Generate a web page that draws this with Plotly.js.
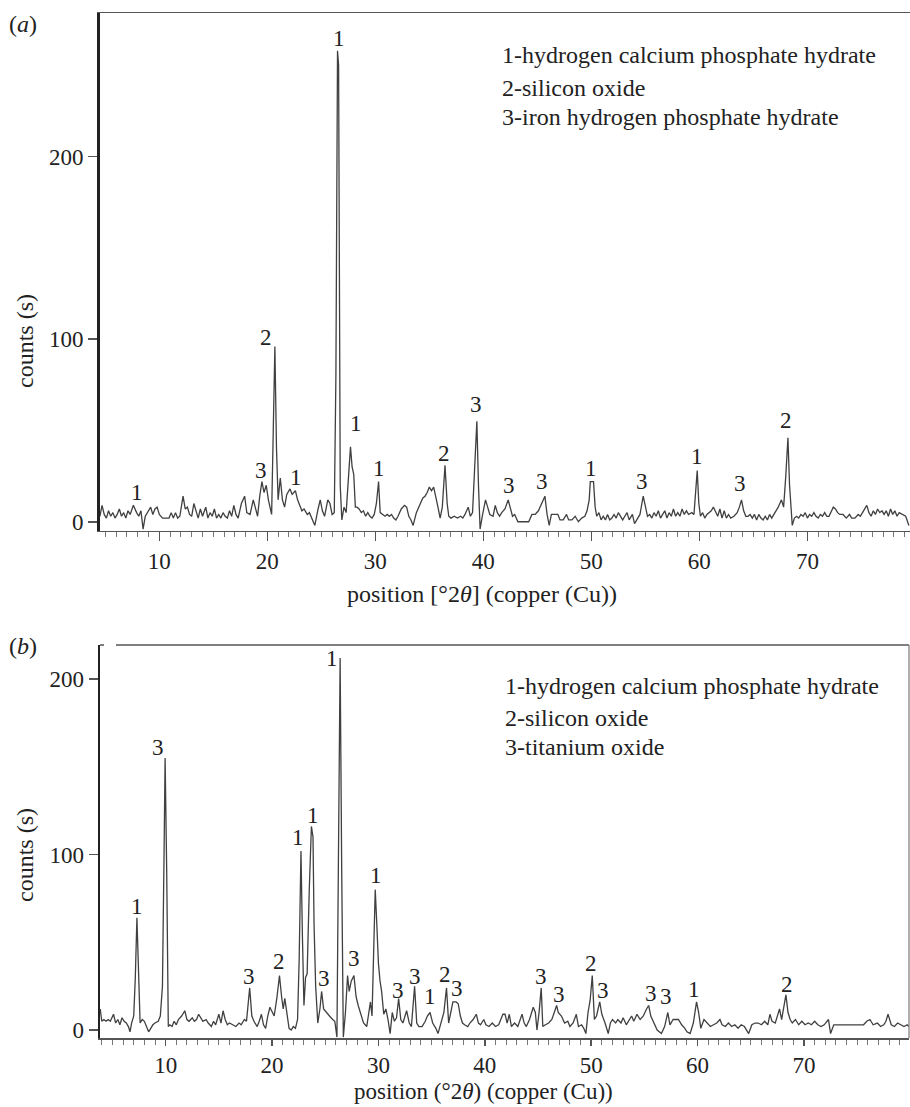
<!DOCTYPE html>
<html>
<head>
<meta charset="utf-8">
<script src="https://cdn.plot.ly/plotly-3.0.1.min.js"></script>
<style>
html,body{margin:0;padding:0;background:#fff;}
#chart{width:910px;height:1107px;}
</style>
</head>
<body>
<div id="chart"></div>
<script>
// ---------- Panel (a) data ----------
const xA = [4.5,4.7,4.9,5.1,5.3,5.5,5.7,5.9,6.1,6.3,6.5,6.7,6.9,7.1,7.3,7.6,7.9,8.1,8.3,8.5,8.7,8.9,9.2,9.4,9.6,9.8,10.0,10.3,10.6,10.9,11.1,11.3,11.5,11.7,11.9,12.2,12.4,12.6,12.8,13.0,13.2,13.4,13.6,13.8,14.0,14.3,14.5,14.7,14.9,15.1,15.3,15.5,15.7,15.9,16.1,16.3,16.5,16.7,16.9,17.1,17.3,17.6,17.9,18.1,18.4,18.7,18.9,19.1,19.3,19.5,19.7,19.9,20.1,20.4,20.55,20.7,20.85,21.0,21.2,21.4,21.6,21.8,22.1,22.3,22.6,22.8,23.0,23.2,23.4,23.7,23.9,24.1,24.4,24.7,24.9,25.1,25.3,25.6,25.8,26.0,26.2,26.35,26.5,26.6,26.75,26.9,27.1,27.3,27.5,27.7,27.85,28.0,28.15,28.3,28.5,28.7,28.9,29.1,29.3,29.5,29.7,29.9,30.1,30.3,30.45,30.7,30.9,31.1,31.3,31.5,31.7,31.9,32.1,32.4,32.7,32.9,33.1,33.3,33.5,33.8,34.1,34.4,34.6,34.8,35.0,35.2,35.4,35.6,35.8,36.0,36.2,36.45,36.65,36.8,37.0,37.3,37.6,37.9,38.1,38.3,38.6,38.8,39.0,39.2,39.4,39.55,39.7,39.9,40.2,40.4,40.6,40.9,41.1,41.3,41.5,41.7,42.0,42.3,42.5,42.7,42.9,43.2,43.5,43.9,44.2,44.5,44.8,45.1,45.4,45.7,45.9,46.1,46.3,46.6,46.9,47.1,47.4,47.7,47.9,48.2,48.5,48.8,49.1,49.4,49.6,49.8,49.9,50.2,50.35,50.5,50.7,50.9,51.1,51.3,51.5,51.7,51.9,52.1,52.3,52.5,52.7,52.9,53.1,53.3,53.5,53.8,54.0,54.3,54.5,54.8,55.0,55.2,55.4,55.6,55.8,56.0,56.2,56.4,56.6,56.8,57.0,57.2,57.4,57.6,57.8,58.0,58.2,58.4,58.6,58.8,59.0,59.3,59.5,59.65,59.8,59.95,60.1,60.3,60.5,60.7,60.9,61.1,61.3,61.5,61.7,61.9,62.1,62.3,62.5,62.7,62.9,63.2,63.5,63.7,63.9,64.1,64.3,64.5,64.7,64.9,65.1,65.3,65.5,65.7,65.9,66.1,66.3,66.5,66.7,66.9,67.1,67.3,67.6,67.8,68.0,68.2,68.35,68.6,68.8,69.0,69.2,69.4,69.6,69.8,70.0,70.2,70.4,70.6,70.8,71.0,71.2,71.4,71.6,71.8,72.0,72.2,72.4,72.6,72.8,73.0,73.3,73.6,73.9,74.1,74.4,74.7,74.9,75.2,75.5,75.7,75.9,76.1,76.3,76.5,76.7,76.9,77.1,77.3,77.5,77.7,77.9,78.1,78.3,78.5,78.8,79.1,79.4];
const yA = [3,9,4,2,6,3,5,2,4,7,3,5,2,6,4,9,5,3,6,-4,3,5,8,4,7,8,4,2,2,2,5,2,5,2,3,14,7,8,4,3,10,6,2,7,3,8,2,5,3,7,2,4,2,5,3,2,6,3,9,4,2,10,14,5,4,12,8,3,14,22,16,20,12,4,50,96,40,12,24,12,8,15,18,15,17,12,9,6,7,4,5,2,-2,7,12,6,3,12,10,4,5,80,258,250,20,1,8,5,25,41,30,26,8,8,7,5,6,3,5,3,2,4,10,22,5,4,3,4,3,4,2,1,3,7,9,8,3,1,-2,5,9,13,14,16,19,17,19,14,8,2,8,31,10,3,2,3,2,3,2,4,8,3,5,30,55,20,-4,3,12,8,4,3,9,5,3,5,7,12,7,3,4,0,0,0,0,4,4,6,10,14,4,-2,4,4,4,1,1,4,1,1,3,0,2,3,6,12,22,22,8,3,5,1,3,1,4,1,2,4,2,5,3,1,3,5,1,4,-1,2,4,14,8,3,4,2,5,3,6,2,4,6,2,5,3,7,3,5,3,7,4,6,4,5,4,14,28,10,3,5,2,4,5,6,8,5,3,7,2,6,2,4,2,3,5,8,12,6,3,3,4,2,4,1,4,2,1,3,1,4,2,4,6,8,12,8,25,46,20,-2,2,3,2,4,3,5,2,4,3,5,3,2,4,3,5,3,3,6,8,7,5,4,4,2,4,2,2,4,3,6,9,5,3,6,4,7,5,6,4,6,3,7,4,6,3,5,4,3,-2];
const peakTextA = ["1","3","2","1","1","1","1","2","3","3","3","1","3","1","3","2"];
const peakXA = [7.9,19.4,19.9,22.65,26.65,28.2,30.3,36.4,39.3,42.4,45.4,50.0,54.7,59.8,63.8,68.0];
const peakYA = [16,28,101,24,265,54,29,37.5,64.5,20,22,29,22,35.6,21,55.7];
const legendA = ["1-hydrogen calcium phosphate hydrate","2-silicon oxide","3-iron hydrogen phosphate hydrate"];

// ---------- Panel (b) data ----------
const xB = [3.85,4.0,4.2,4.4,4.6,4.8,5.1,5.3,5.5,5.7,5.9,6.1,6.3,6.5,6.65,6.8,7.0,7.15,7.3,7.45,7.6,7.8,8.0,8.2,8.4,8.6,8.8,9.0,9.3,9.5,9.7,9.85,9.95,10.1,10.25,10.4,10.6,10.8,11.0,11.2,11.5,11.8,12.0,12.2,12.5,12.7,12.9,13.1,13.3,13.5,13.8,14.0,14.3,14.5,14.7,15.0,15.2,15.4,15.6,15.8,16.0,16.3,16.6,16.9,17.1,17.4,17.6,17.9,18.1,18.3,18.6,18.8,19.0,19.2,19.4,19.6,19.8,19.96,20.2,20.45,20.7,20.9,21.05,21.2,21.4,21.6,21.8,22.0,22.2,22.4,22.55,22.72,22.85,23.0,23.15,23.3,23.5,23.7,23.85,23.95,24.1,24.3,24.5,24.66,24.85,25.1,25.4,25.7,25.9,26.1,26.25,26.4,26.55,26.7,26.9,27.1,27.25,27.45,27.7,27.9,28.1,28.4,28.6,28.9,29.1,29.25,29.4,29.55,29.7,29.85,30.0,30.15,30.3,30.5,30.7,30.9,31.1,31.3,31.5,31.7,31.9,32.1,32.3,32.65,32.9,33.1,33.4,33.6,33.8,34.1,34.4,34.6,34.85,35.1,35.4,35.6,35.9,36.15,36.4,36.6,36.8,37.0,37.3,37.5,37.7,37.9,38.1,38.4,38.6,38.9,39.2,39.4,39.6,39.9,40.1,40.4,40.7,41.0,41.3,41.7,41.9,42.1,42.3,42.5,42.8,43.1,43.5,43.7,43.9,44.2,44.55,44.75,44.9,45.1,45.3,45.45,45.7,46.0,46.3,46.75,46.9,47.2,47.5,47.8,48.0,48.3,48.6,48.8,49.1,49.3,49.5,49.7,49.9,50.1,50.3,50.5,50.8,51.0,51.3,51.6,51.8,52.0,52.3,52.5,52.8,53.0,53.3,53.6,53.8,54.0,54.3,54.6,54.9,55.2,55.4,55.6,55.9,56.2,56.6,56.9,57.2,57.4,57.7,57.9,58.2,58.5,58.8,59.0,59.3,59.6,59.9,60.1,60.3,60.6,60.9,61.2,61.5,61.8,62.1,62.3,62.6,62.9,63.2,63.5,63.8,64.1,64.4,64.8,65.1,65.4,65.7,66.0,66.3,66.6,66.8,67.0,67.3,67.5,67.7,67.9,68.1,68.3,68.5,68.7,68.9,69.2,69.5,69.8,70.1,70.4,70.7,71.0,71.3,71.6,71.9,72.3,72.5,72.8,73.2,73.6,74.0,74.4,74.8,75.2,75.6,75.9,76.2,76.5,76.9,77.2,77.5,77.7,77.9,78.2,78.5,78.8,79.1,79.4,79.7,79.8,79.85];
const yB = [12,5,6,5,6,5,9,4,6,3,7,5,4,2,-1,4,8,30,64,25,4,6,5,2,-1,1,3,4,5,8,25,100,155,90,2,3,2,5,3,6,8,11,6,5,7,5,6,9,7,5,6,4,2,5,3,9,4,11,6,3,4,3,2,4,3,6,5,24,8,5,2,5,9,3,1,8,13,11,8,18,31,19,12,18,8,1,0,2,1,6,40,102,55,14,30,32,80,116,110,60,25,4,12,22,12,10,8,6,5,-4,100,212,90,-4,10,31,22,28,31,19,14,8,4,2,10,16,8,50,80,60,38,28,22,9,12,6,-2,10,5,7,18,6,4,11,4,2,25,4,2,2,5,8,10,4,1,-2,4,10,24,4,10,16,16,15,8,4,3,2,4,6,9,4,3,6,3,2,4,2,3,9,9,4,9,2,4,2,9,4,2,6,13,10,0,10,24,2,3,4,6,14,10,8,4,5,2,4,9,2,3,1,-2,10,17,31,6,8,16,9,4,-2,4,6,4,6,4,7,3,6,8,5,9,6,8,12,14,8,4,0,-2,2,10,3,6,6,6,3,1,-1,-2,4,16,10,1,6,4,2,3,4,6,3,2,4,2,3,1,3,2,-2,3,4,4,3,5,3,9,5,4,8,12,6,12,20,10,6,4,6,3,5,3,4,3,5,3,2,3,6,-2,3,3,3,3,3,3,3,3,5,6,3,4,2,3,5,9,3,2,4,3,2,3,2,2,26];
const peakTextB = ["1","3","3","2","1","1","3","1","3","1","3","3","1","2","3","3","3","2","3","3","3","1","2"];
const peakXB = [7.34,9.31,17.83,20.68,22.4,23.82,24.88,25.6,27.7,29.74,31.87,33.44,34.85,36.25,37.41,45.25,47.0,49.98,51.07,55.6,57.0,59.66,68.4];
const peakYB = [70.3,161,30.4,38.9,109.8,122,29.4,211.8,40.8,88.3,22.8,30.8,19,31.9,23.7,30.4,20.5,38,22.4,20.9,19,23.2,26.2];
const legendB = ["1-hydrogen calcium phosphate hydrate","2-silicon oxide","3-titanium oxide"];

const xTickVals = [10,20,30,40,50,60,70];
const yTickVals = [0,100,200];

// ---------- styling ----------
const FONT = "Liberation Serif, Times New Roman, serif";
const TXT = "#222";
const lineStyle = {color:"#404040", width:1.3};

const traces = [
  {x:xA, y:yA, type:"scatter", mode:"lines", line:lineStyle, xaxis:"x", yaxis:"y", hoverinfo:"skip"},
  {x:xB, y:yB, type:"scatter", mode:"lines", line:lineStyle, xaxis:"x2", yaxis:"y2", hoverinfo:"skip"}
];

function xAxis(range, domain, anchor, mirror, tlen){
  return {
    domain: domain, range: range, anchor: anchor,
    showgrid:false, zeroline:false,
    showline:true, linecolor:"#555", linewidth:1.5, mirror: mirror,
    ticks:"outside", ticklen:tlen, tickwidth:1.5, tickcolor:"#555",
    tickvals: xTickVals, ticktext: xTickVals.map(String),
    minor:{dtick:1, tick0:0, ticks:"outside", ticklen:5, tickwidth:1, tickcolor:"#777", showgrid:false},
    tickfont:{family:FONT, size:23, color:TXT},
    fixedrange:true
  };
}
function yAxis(range, domain, anchor, lw){
  return {
    domain: domain, range: range, anchor: anchor,
    showgrid:false, zeroline:false,
    showline:true, linecolor:"#222", linewidth:lw,
    ticks:"outside", ticklen:9, tickwidth:1.5, tickcolor:"#555",
    tickvals: yTickVals, ticktext: yTickVals.map(String),
    tickfont:{family:FONT, size:23, color:TXT},
    fixedrange:true
  };
}

const W = 910, H = 1107;
const px = v => v / W;
const py = v => 1 - v / H;

const annotations = [];
function addText(text, x, y, xref, yref, opts){
  annotations.push(Object.assign({
    text:text, x:x, y:y, xref:xref, yref:yref, showarrow:false,
    xanchor:"center", yanchor:"middle",
    font:{family:FONT, size:23, color:TXT}
  }, opts||{}));
}

peakTextA.forEach((t,i)=>addText(t, peakXA[i], peakYA[i], "x", "y"));
peakTextB.forEach((t,i)=>addText(t, peakXB[i], peakYB[i], "x2", "y2"));

// legends (text lists)
const legAy = [55, 88, 117];
legendA.forEach((t,i)=>addText(t, px(500), py(legAy[i]), "paper", "paper", {xanchor:"left", font:{family:FONT, size:24, color:TXT}}));
const legBy = [686, 718, 747];
legendB.forEach((t,i)=>addText(t, px(503), py(legBy[i]), "paper", "paper", {xanchor:"left", font:{family:FONT, size:24, color:TXT}}));

// axis titles
addText("position [°2<i>θ</i>] (copper (Cu))", px(482), py(594), "paper", "paper", {font:{family:FONT, size:24, color:TXT}});
addText("position (°2<i>θ</i>) (copper (Cu))", px(483), py(1091.5), "paper", "paper", {borderpad:0, font:{family:FONT, size:23, color:TXT}});
addText("counts (s)", px(25), py(341), "paper", "paper", {textangle:-90, font:{family:FONT, size:24, color:TXT}});
addText("counts (s)", px(25), py(855), "paper", "paper", {textangle:-90, font:{family:FONT, size:24, color:TXT}});
// panel labels
addText("(<i>a</i>)", px(23), py(24), "paper", "paper", {font:{family:FONT, size:24, color:TXT}});
addText("(<i>b</i>)", px(23), py(646), "paper", "paper", {font:{family:FONT, size:24, color:TXT}});

const shapes = [
  // panel (b) frame: top and right lines
  {type:"line", xref:"paper", yref:"paper", x0:px(116), x1:px(909), y0:py(645), y1:py(645), line:{color:"#555", width:1.5}},
  {type:"line", xref:"paper", yref:"paper", x0:px(909), x1:px(909), y0:py(645), y1:py(1038.3), line:{color:"#777", width:1.2}},
  {type:"line", xref:"paper", yref:"paper", x0:px(100), x1:px(104), y0:py(645), y1:py(645), line:{color:"#555", width:1.5}}
];

const layout = {
  width:W, height:H,
  margin:{l:0, r:0, t:0, b:0},
  paper_bgcolor:"#fff", plot_bgcolor:"#fff",
  showlegend:false,
  font:{family:FONT, color:TXT},
  xaxis: xAxis([4.51, 79.5], [px(100), 1], "y", true, 9),
  yaxis: yAxis([-4.9, 278.7], [py(530.7), py(13)], "x", 3),
  xaxis2: xAxis([3.83, 79.87], [px(100), px(909)], "y2", false, 6),
  yaxis2: yAxis([-4.7, 219.4], [py(1038.3), py(645)], "x2", 2.5),
  annotations: annotations,
  shapes: shapes
};

Plotly.newPlot("chart", traces, layout, {staticPlot:true, displayModeBar:false});
</script>
</body>
</html>
